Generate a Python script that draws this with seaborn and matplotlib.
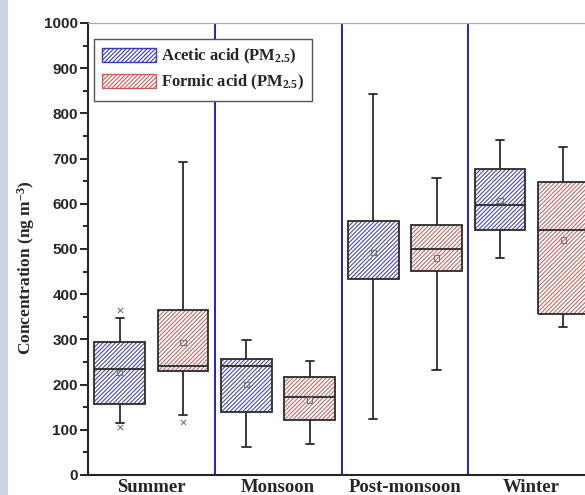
import numpy as np
import pandas as pd
import matplotlib
matplotlib.use("Agg")
import matplotlib.pyplot as plt
from matplotlib.patches import PathPatch, Patch, Rectangle
import seaborn as sns

# Seasons and acids
seasons = ["Summer", "Monsoon", "Post-monsoon", "Winter"]
acids = ["Acetic acid (PM$_{2.5}$)", "Formic acid (PM$_{2.5}$)"]

# Box statistics (ng m-3)
acetic_min = [116, 63, 125, 479]
acetic_q1 = [157, 139, 434, 541]
acetic_med = [235, 241, 495, 597]
acetic_q3 = [295, 256, 563, 677]
acetic_max = [347, 299, 842, 741]
acetic_mean = [226, 201, 492, 607]

formic_min = [132, 69, 232, 328]
formic_q1 = [231, 121, 451, 356]
formic_med = [241, 172, 501, 542]
formic_q3 = [366, 217, 553, 648]
formic_max = [692, 252, 656, 726]
formic_mean = [293, 166, 480, 520]

# Extreme points (x markers)
outlier_season = ["Summer", "Summer", "Summer"]
outlier_acid = [0, 0, 1]
outlier_value = [365, 106, 117]

hatch_colors = ["#3b3bb3", "#cd5c5c"]

# Build long-form table from the five-number summaries
rows = []
for acid, stats in zip(acids, [(acetic_min, acetic_q1, acetic_med, acetic_q3, acetic_max),
                               (formic_min, formic_q1, formic_med, formic_q3, formic_max)]):
    for i, s in enumerate(seasons):
        for v in (stats[0][i], stats[1][i], stats[2][i], stats[3][i], stats[4][i]):
            rows.append({"season": s, "acid": acid, "value": v})
df = pd.DataFrame(rows)

sns.set_style("ticks")
plt.rcParams["font.family"] = ["Liberation Serif", "DejaVu Serif"]
plt.rcParams["font.weight"] = "bold"
plt.rcParams["mathtext.fontset"] = "custom"
plt.rcParams["mathtext.rm"] = "Liberation Serif:bold"
plt.rcParams["mathtext.it"] = "Liberation Serif:bold"
plt.rcParams["mathtext.bf"] = "Liberation Serif:bold"
plt.rcParams["mathtext.default"] = "rm"
plt.rcParams["hatch.linewidth"] = 0.8

fig = plt.figure(figsize=(5.85, 4.95), dpi=100)
ax = fig.add_axes([88 / 585, 20 / 495, 507 / 585, 452 / 495])

sns.boxplot(data=df, x="season", y="value", hue="acid", order=seasons, hue_order=acids,
            palette=dict(zip(acids, hatch_colors)), whis=(0, 100), width=1.0, gap=0.2,
            linecolor="#2b2b2b", linewidth=1.3, capwidths=0.065, legend=False, ax=ax)

# hatched boxes with dark outline
for p in list(ax.patches):
    c = p.get_facecolor()
    p.set_facecolor("white")
    p.set_edgecolor(c)
    p.set_hatch("////////")
    p.set_linewidth(0)
    ax.add_patch(PathPatch(p.get_path(), transform=p.get_transform(), fill=False,
                           edgecolor="#2b2b2b", linewidth=1.3, zorder=p.get_zorder() + 0.1))

# hide the median of post-monsoon acetic (not visible in original)
for l in ax.lines:
    y = np.asarray(l.get_ydata(), dtype=float)
    if len(y) == 2 and np.allclose(y, acetic_med[2]):
        l.set_visible(False)

# means and extreme points
offsets = [-0.25, 0.25]
for k, means in enumerate([acetic_mean, formic_mean]):
    ax.scatter(np.arange(len(seasons)) + offsets[k], means, marker="s", s=14,
               facecolor="none", edgecolor="#777777", linewidth=0.8, zorder=5)
ox = [seasons.index(s) + offsets[a] for s, a in zip(outlier_season, outlier_acid)]
ax.scatter(ox, outlier_value, marker="x", s=14, color="#777777", linewidth=0.8, zorder=5)

# season separators
for xv in [0.5, 1.5, 2.5]:
    ax.axvline(xv, color="#2020cc", linewidth=1.4, zorder=1)

ax.set_xlim(-0.5, 3.5)
ax.set_ylim(0, 1000)
ax.set_yticks(np.arange(0, 1001, 100))
ax.set_yticks(np.arange(50, 1000, 100), minor=True)
ax.tick_params(axis="y", which="major", length=5.8, width=1.4, pad=1.5, labelsize=11)
ax.tick_params(axis="y", which="minor", length=3.6, width=1.4)
ax.tick_params(axis="x", length=0, pad=3, labelsize=13.5)
for t in ax.get_yticklabels():
    t.set_fontfamily("Liberation Sans")
    t.set_fontweight("bold")
for t in ax.get_xticklabels():
    t.set_fontweight("bold")

ax.spines["left"].set_linewidth(1.5)
ax.spines["bottom"].set_linewidth(1.5)
ax.spines["top"].set_visible(True)
ax.spines["top"].set_color("#aaaaaa")
ax.spines["top"].set_linewidth(0.9)
ax.spines["right"].set_visible(False)

ax.set_xlabel("")
ax.set_ylabel("Concentration (ng m$^{-3}$)", fontsize=12.5, fontweight="bold")
ax.yaxis.set_label_coords(-0.10, 0.46)

handles = [Patch(facecolor="white", edgecolor=c, hatch="////////", linewidth=1) for c in hatch_colors]
leg = ax.legend(handles, acids, loc="upper left", bbox_to_anchor=(0.012, 0.965),
                frameon=True, fancybox=False, edgecolor="#555555", framealpha=1,
                fontsize=12, handlelength=3.2, handleheight=0.9, borderpad=0.5,
                labelspacing=0.4, handletextpad=0.3, borderaxespad=0)
leg.get_frame().set_linewidth(1.0)
leg.set_zorder(10)

# screenshot edge strip on the left
fig.patches.append(Rectangle((0, 0), 8 / 585, 1, transform=fig.transFigure,
                             facecolor="#c9d5e3", edgecolor="none"))

fig.savefig("out.png", dpi=100)
